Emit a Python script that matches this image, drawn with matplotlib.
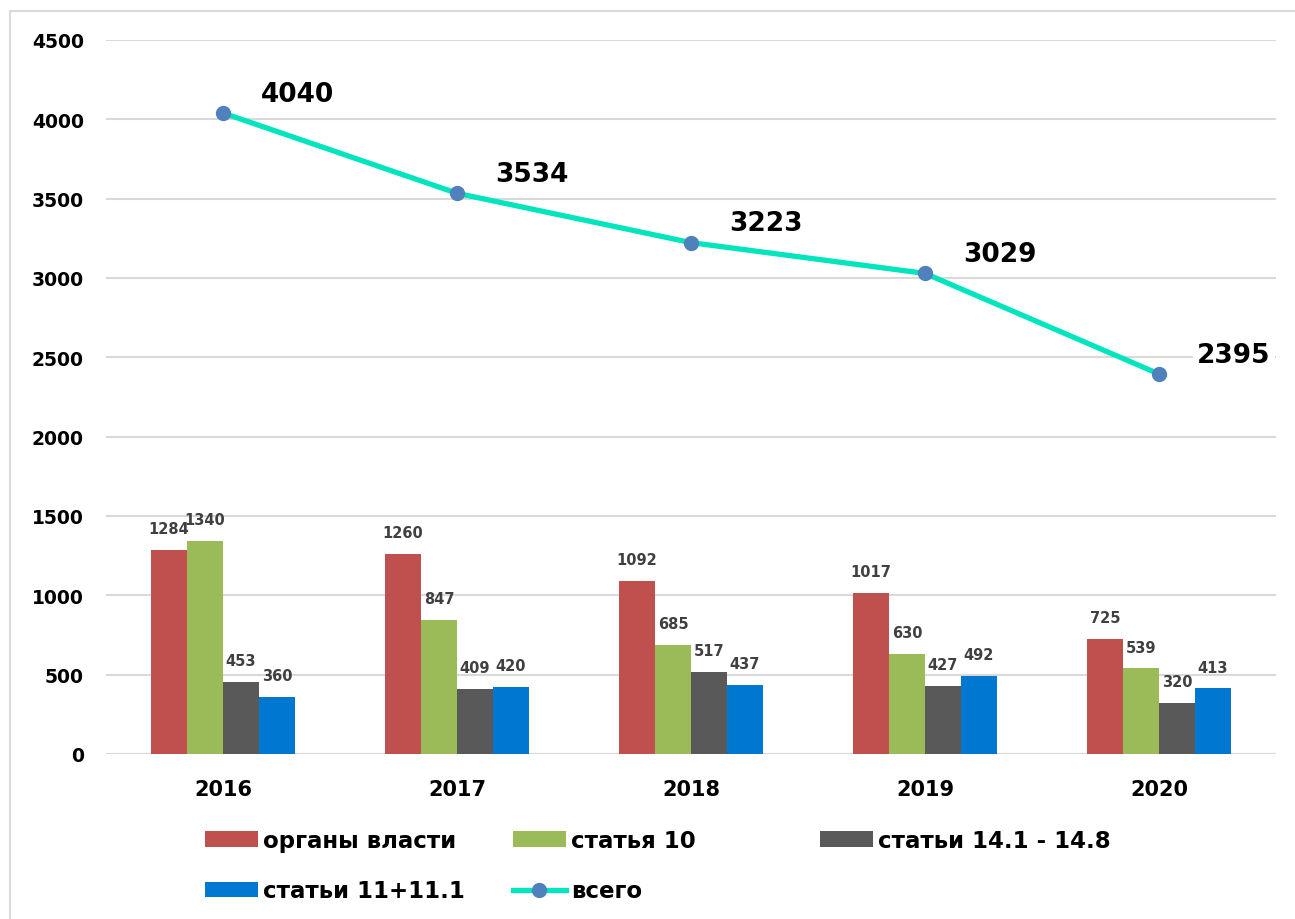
import numpy as np
import matplotlib
matplotlib.use("Agg")
import matplotlib.pyplot as plt
from matplotlib.patches import Rectangle

plt.rcParams['font.family'] = ['DejaVu Sans']
plt.rcParams['font.weight'] = 'bold'

# data
years = ["2016", "2017", "2018", "2019", "2020"]
organy = [1284, 1260, 1092, 1017, 725]
statya10 = [1340, 847, 685, 630, 539]
statyi14 = [453, 409, 517, 427, 320]
statyi11 = [360, 420, 437, 492, 413]
vsego = [4040, 3534, 3223, 3029, 2395]

series_names = ["органы власти", "статья 10", "статьи 14.1 - 14.8", "статьи 11+11.1"]
line_name = "всего"
colors = ["#C0504D", "#9BBB59", "#595959", "#0077D0"]

W, H = 1295, 920
fig = plt.figure(figsize=(W / 100, H / 100), dpi=100)
ax = fig.add_axes([106 / W, 1 - 755 / H, 1170 / W, 714 / H])

# light frame around chart area (only left and top edges fall inside the image)
fig.add_artist(Rectangle((10 / W, -0.05), 1.2, 1 - 12 / H + 0.05, transform=fig.transFigure,
                         fill=False, ec="#D9D9D9", lw=1.5))

x = np.arange(len(years))
bw = 0.154
bars = []
for i, (vals, c) in enumerate(zip([organy, statya10, statyi14, statyi11], colors)):
    b = ax.bar(x + (i - 1.5) * bw, vals, bw, color=c, label=series_names[i], zorder=2)
    ax.bar_label(b, padding=10, fontsize=10.5, color="#404040", fontweight="bold")
    bars.append(b)

line, = ax.plot(x, vsego, color="#00E5BE", lw=3.8, marker="o", markersize=10,
                markerfacecolor="#4F81BD", markeredgecolor="#4F81BD", zorder=4, label=line_name)
for xi, v in zip(x, vsego):
    ax.annotate(str(v), (xi, v), xytext=(54, 14), textcoords="offset points",
                ha="center", va="center", fontsize=19, fontweight="bold", color="black",
                bbox=dict(fc="white", ec="none", pad=3), zorder=5)

ax.set_xlim(-0.5, 4.5)
ax.set_ylim(0, 4500)
ax.set_yticks(np.arange(0, 4501, 500))
ax.set_xticks(x)
ax.set_xticklabels(years, fontsize=15, fontweight="bold")
ax.tick_params(axis="y", labelsize=13.5, length=0, pad=16)
ax.tick_params(axis="x", length=0, pad=18)
ax.grid(axis="y", color="#D9D9D9", lw=1.5, zorder=0)
ax.set_axisbelow(True)
for s in ax.spines.values():
    s.set_visible(False)
ax.axhline(0, color="#D9D9D9", lw=1.5, zorder=1)

# legend: three columns at fixed positions, like the original
leg_kw = dict(frameon=False, loc="upper left", fontsize=16.5, handlelength=2.3,
              handleheight=0.65, handletextpad=0.25, borderpad=0, borderaxespad=0,
              labelspacing=1.2)
anchor_y = 1 - 830 / H
l1 = fig.legend([bars[0], bars[3]], [series_names[0], series_names[3]],
                bbox_to_anchor=(205 / W, anchor_y), **leg_kw)
l2 = fig.legend([bars[1], line], [series_names[1], line_name],
                bbox_to_anchor=(513 / W, anchor_y), **leg_kw)
l3 = fig.legend([bars[2]], [series_names[2]],
                bbox_to_anchor=(820 / W, anchor_y), **leg_kw)

fig.savefig("out.png", dpi=100)
